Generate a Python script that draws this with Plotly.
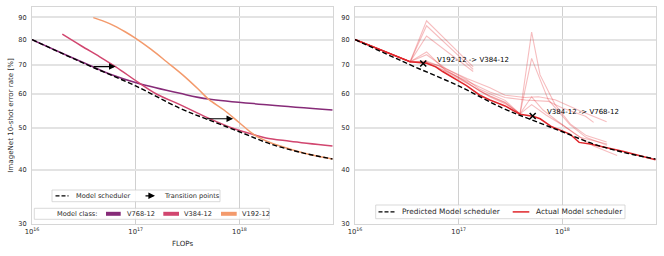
import math
import plotly.graph_objects as go

# ---------------- data ----------------
# Left panel: model-class curves (FLOPs, error %)
v768_x = [1e16, 2e16, 3.77e16, 5.6e16, 1.05e17, 2.67e17, 5.03e17, 1.95e18, 7.9e18]
v768_y = [80.0, 74.2, 69.4, 66.6, 63.4, 60.1, 58.3, 56.5, 55.0]

v384_x = [1.96e16, 3.0e16, 4.5e16, 6.43e16, 1.05e17, 1.6e17, 2.67e17, 4.84e17, 8.5e17, 1.39e18, 1.8e18, 3.07e18, 7.9e18]
v384_y = [82.3, 77.3, 73.0, 69.2, 63.8, 59.8, 56.6, 52.9, 50.0, 48.2, 47.4, 46.6, 45.4]

v192_x = [3.9e16, 5.6e16, 7.9e16, 1.0e17, 1.41e17, 2.0e17, 2.82e17, 4.0e17, 5.03e17,
          7.1e17, 1.0e18, 1.39e18, 2.0e18, 3.16e18, 5.0e18, 7.9e18]
v192_y = [89.9, 87.1, 83.4, 80.5, 75.9, 71.0, 66.4, 61.5, 58.3,
          55.0, 51.4, 48.2, 46.2, 44.6, 43.3, 42.4]

# Model scheduler (predicted)
sched_x = [1e16, 2e16, 3.77e16, 1e17, 2.67e17, 4.84e17, 1e18, 2e18, 4.07e18, 7.9e18]
sched_y = [80.0, 74.1, 69.2, 62.5, 55.5, 52.4, 49.0, 45.9, 43.8, 42.4]

# Transition arrows (left)
arrow_x0 = [3.8e16, 4.7e17]
arrow_x1 = [6.4e16, 8.7e17]
arrow_y = [69.3, 52.5]

# Right panel: actual scheduler
act_x = [1e16, 2e16, 3.4e16, 4.9e16, 6.0e16, 7.0e16, 1.19e17, 1.6e17, 2.0e17, 2.8e17, 3.9e17,
         5.2e17, 6.1e17, 7.9e17, 1.18e18, 1.45e18, 1.85e18, 3.9e18, 7.9e18]
act_y = [80.0, 74.8, 71.1, 70.5, 69.2, 67.5, 62.6, 59.5, 58.0, 56.2, 53.8,
         53.2, 52.5, 50.3, 48.4, 46.3, 45.9, 44.1, 42.2]

# Right panel: alternative (faint) schedules
alt_x = [
    [1e16, 2e16, 3.4e16, 4.9e16, 1.38e17],
    [1e16, 2e16, 3.4e16, 4.9e16, 1.38e17],
    [1e16, 2e16, 3.4e16, 4.9e16, 1.38e17],
    [1e16, 2e16, 3.4e16, 4.9e16, 7.5e16, 1.2e17, 1.6e17, 2.0e17, 2.8e17, 3.9e17, 5.05e17, 6.09e17, 8.5e17, 1.2e18, 1.7e18, 2.67e18],
    [1e16, 2e16, 3.4e16, 4.9e16, 7.5e16, 1.2e17, 1.6e17, 2.0e17, 2.8e17, 3.9e17, 5.05e17, 7.3e17, 1.18e18, 1.7e18, 2.7e18],
    [1e16, 2e16, 3.4e16, 4.9e16, 7e16, 1.2e17, 2.0e17, 2.8e17, 4.36e17, 5.86e17, 8.5e17, 1.47e18, 2.67e18],
    [1e16, 2e16, 3.4e16, 4.9e16, 6.5e16, 1.2e17, 2.0e17, 2.8e17, 3.9e17, 5.05e17, 6.5e17, 9e17, 1.3e18, 2e18, 3.37e18],
    [1e16, 2e16, 3.4e16, 4.9e16, 7e16, 1.2e17, 2.0e17, 2.8e17, 4.4e17, 7.3e17, 1.0e18, 1.67e18, 2.0e18],
    [1e16, 2e16, 3.4e16, 4.9e16, 7e16, 1.2e17, 2.0e17, 2.8e17, 3.9e17, 5.05e17, 7e17, 1e18, 1.5e18, 2.7e18],
]
alt_y = [
    [80, 74.8, 71.1, 88.4, 69.2],
    [80, 74.8, 71.1, 86.1, 68.3],
    [80, 74.8, 71.1, 81.5, 67.5],
    [80, 74.8, 71.1, 74.9, 67.8, 63.8, 60.8, 59.3, 57.3, 53.9, 83.2, 66.3, 56.6, 51.0, 48.0, 46.4],
    [80, 74.8, 71.1, 73.8, 68.6, 64.6, 61.4, 60.0, 57.9, 53.9, 72.4, 58.1, 50.9, 47.5, 45.6],
    [80, 74.8, 71.1, 71.4, 69.0, 65.0, 61.9, 59.5, 58.8, 59.0, 58.1, 54.8, 51.7],
    [80, 74.8, 71.1, 70.9, 69.6, 63.6, 58.9, 56.9, 53.9, 59.0, 55.0, 51.8, 48.6, 45.4, 43.2],
    [80, 74.8, 71.1, 71.0, 68.3, 64.2, 60.5, 58.8, 58.0, 57.6, 55.6, 53.2, 51.5],
    [80, 74.8, 71.1, 70.7, 68.0, 63.4, 59.2, 57.2, 53.9, 56.6, 53.5, 50.8, 47.5, 45.9],
]

trans_x = [4.55e16, 5.17e17]
trans_y = [70.4, 53.3]
trans_labels = ["V192-12 -&gt; V384-12", "V384-12 -&gt; V768-12"]

x_ticks = [1e16, 1e17, 1e18]
x_ticktext = ["10<sup>16</sup>", "10<sup>17</sup>", "10<sup>18</sup>"]
y_ticks = [30, 40, 50, 60, 70, 80, 90]

# ---------------- style ----------------
C768 = "#862b78"
C384 = "#d1466f"
C192 = "#f39a6c"
RED = "#e0262b"
RED_FAINT = "rgba(224,38,43,0.3)"
FONT = "DejaVu Sans"
TXT = "#2b2b2b"

W, H = 664, 256
ML, MR, MT, MB = 32, 8, 7, 32
PW = W - ML - MR
PH = H - MT - MB


def pap(px, py):
    return (px - ML) / PW, (MT + PH - py) / PH


fig = go.Figure()

# left panel curves
for xs, ys, c in [(v768_x, v768_y, C768), (v384_x, v384_y, C384), (v192_x, v192_y, C192)]:
    fig.add_trace(go.Scatter(x=xs, y=ys, mode="lines", xaxis="x", yaxis="y",
                             line=dict(color=c, width=1.5, shape="spline", smoothing=1.0)))
fig.add_trace(go.Scatter(x=sched_x, y=sched_y, mode="lines", xaxis="x", yaxis="y",
                         line=dict(color="black", width=1.4, dash="5px,2.5px", shape="spline", smoothing=1.0)))

# right panel
for xs, ys in zip(alt_x, alt_y):
    fig.add_trace(go.Scatter(x=xs, y=ys, mode="lines", xaxis="x2", yaxis="y2",
                             line=dict(color=RED_FAINT, width=1.1)))
fig.add_trace(go.Scatter(x=act_x, y=act_y, mode="lines", xaxis="x2", yaxis="y2",
                         line=dict(color=RED, width=1.5)))
fig.add_trace(go.Scatter(x=sched_x, y=sched_y, mode="lines", xaxis="x2", yaxis="y2",
                         line=dict(color="black", width=1.4, dash="5px,2.5px", shape="spline", smoothing=1.0)))
fig.add_trace(go.Scatter(x=trans_x, y=trans_y, mode="markers", xaxis="x2", yaxis="y2",
                         marker=dict(symbol="x-thin", size=6, color="black",
                                     line=dict(width=1.5, color="black"))))

annotations = []
for x0, x1, y in zip(arrow_x0, arrow_x1, arrow_y):
    annotations.append(dict(x=math.log10(x1), y=math.log10(y), ax=math.log10(x0), ay=math.log10(y),
                            xref="x", yref="y", axref="x", ayref="y", text="", showarrow=True,
                            arrowhead=2, arrowsize=1.1, arrowwidth=1.2, arrowcolor="black"))
for tx, ty, lab in zip(trans_x, trans_y, trans_labels):
    annotations.append(dict(x=math.log10(tx), y=math.log10(ty), xref="x2", yref="y2", text=lab,
                            showarrow=False, xanchor="left", yanchor="middle", xshift=12, yshift=4,
                            font=dict(family=FONT, size=7, color="black")))

shapes = []


def box(x0, x1, y0, y1):
    a = pap(x0, y1)
    b = pap(x1, y0)
    shapes.append(dict(type="rect", xref="paper", yref="paper", x0=a[0], y0=a[1], x1=b[0], y1=b[1],
                       line=dict(color="#cfcfcf", width=0.8), fillcolor="rgba(255,255,255,0.85)",
                       layer="above"))


def hline(x0, x1, y, color, width, dash="solid"):
    a = pap(x0, y)
    b = pap(x1, y)
    shapes.append(dict(type="line", xref="paper", yref="paper", x0=a[0], y0=a[1], x1=b[0], y1=b[1],
                       line=dict(color=color, width=width, dash=dash), layer="above"))


def label(x, y, text, size):
    p = pap(x, y)
    annotations.append(dict(x=p[0], y=p[1], xref="paper", yref="paper", text=text, showarrow=False,
                            xanchor="left", yanchor="middle",
                            font=dict(family=FONT, size=size, color=TXT)))


# legend 1 (left, upper)
box(52, 220, 190, 201.7)
hline(55.5, 68.5, 195.8, "black", 1.3, "4px,2px")
label(74, 195.8, "Model scheduler", 6.6)
p = pap(155, 195.8)
annotations.append(dict(x=p[0], y=p[1], xref="paper", yref="paper", ax=-11, ay=0, axref="pixel",
                        ayref="pixel", text="", showarrow=True, arrowhead=2, arrowsize=1.1,
                        arrowwidth=1.2, arrowcolor="black"))
label(161.5, 195.8, "Transition points", 6.6)

# legend 2 (left, model classes)
box(34.3, 269.3, 208.3, 219.3)
label(54.5, 213.8, "Model class:", 6.6)
hline(106, 120.7, 213.8, C768, 4)
label(124.5, 213.8, "V768-12", 6.6)
hline(163.3, 179, 213.8, C384, 4)
label(182.2, 213.8, "V384-12", 6.6)
hline(221, 236.7, 213.8, C192, 4)
label(239.5, 213.8, "V192-12", 6.6)

# legend 3 (right)
box(375.7, 625, 205, 218.7)
hline(378.5, 395, 211.9, "black", 1.4, "4px,2px")
label(399.5, 211.9, "Predicted Model scheduler", 7.4)
hline(512.7, 529.3, 211.9, RED, 1.5)
label(533.5, 211.9, "Actual Model scheduler", 7.4)

x_range = [16, 16 + 301 / 103.7]
y_range = [math.log10(30), math.log10(30) + PH / 433]

common_x = dict(type="log", range=x_range, tickvals=x_ticks, ticktext=x_ticktext,
                showgrid=True, gridcolor="#d0d0d0", gridwidth=1, showline=True, mirror=True,
                linecolor="#d6d6d6", linewidth=1.2, ticks="", zeroline=False,
                tickfont=dict(family=FONT, size=6.8, color=TXT), ticklabelstandoff=1)
common_y = dict(type="log", range=y_range, tickvals=y_ticks, ticktext=[str(v) for v in y_ticks],
                showgrid=True, gridcolor="#e3e3e3", gridwidth=1.5, showline=True, mirror=True,
                linecolor="#d6d6d6", linewidth=1.2, ticks="", zeroline=False,
                tickfont=dict(family=FONT, size=6.6, color=TXT), ticklabelstandoff=3)

fig.update_layout(
    width=W, height=H,
    margin=dict(l=ML, r=MR, t=MT, b=MB, autoexpand=False),
    plot_bgcolor="white", paper_bgcolor="white",
    showlegend=False,
    xaxis=dict(domain=[0, 301 / PW], anchor="y",
               title=dict(text="FLOPs", font=dict(family=FONT, size=7.1, color=TXT), standoff=5),
               **common_x),
    yaxis=dict(domain=[0, 1], anchor="x",
               title=dict(text="ImageNet 10-shot error rate [%]",
                          font=dict(family=FONT, size=7.1, color=TXT), standoff=3),
               **common_y),
    xaxis2=dict(domain=[323 / PW, 1], anchor="y2", **common_x),
    yaxis2=dict(domain=[0, 1], anchor="x2", **common_y),
    annotations=annotations,
    shapes=shapes,
)

fig.write_html("out.html", config={"displayModeBar": False},
               post_script="document.body.style.margin='0';document.body.style.padding='0';")
